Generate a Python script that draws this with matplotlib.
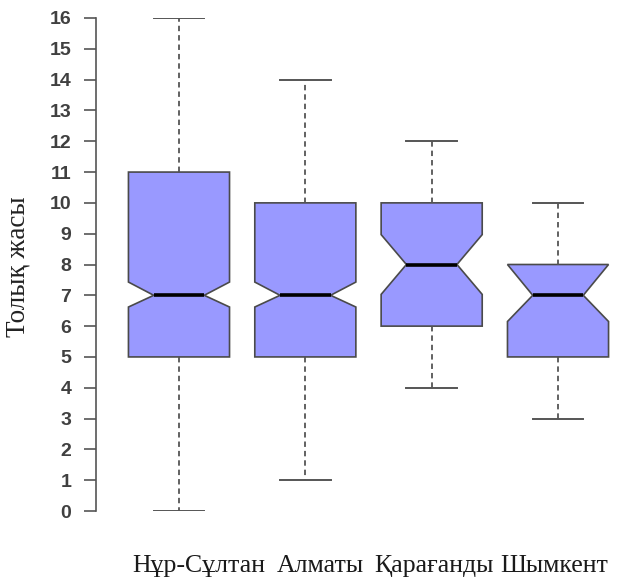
import matplotlib
matplotlib.use("Agg")
import matplotlib.pyplot as plt

# Summary statistics of age per city
cities = ["Нұр-Сұлтан", "Алматы", "Қарағанды", "Шымкент"]
whisker_low = [0, 1, 4, 3]
q1 = [5, 5, 6, 5]
medians = [7, 7, 8, 7]
q3 = [11, 10, 10, 8]
whisker_high = [16, 14, 12, 10]
notch_low = [6.62, 6.62, 7.03, 6.15]
notch_high = [7.43, 7.43, 8.97, 8.0]
y_ticks = list(range(0, 17))
y_label = "Толық жасы"

W, H, DPI = 626, 579, 100
fig = plt.figure(figsize=(W / DPI, H / DPI), dpi=DPI)
fig.patch.set_facecolor("white")

# plot region in pixels (R-style layout)
left_px, right_px = 95.6, 641.4
top_px, bottom_px = 18.0, 511.0
ax = fig.add_axes([left_px / W, 1 - bottom_px / H,
                   (right_px - left_px) / W, (bottom_px - top_px) / H])

stats = []
for i, name in enumerate(cities):
    stats.append(dict(med=medians[i], q1=q1[i], q3=q3[i],
                      whislo=whisker_low[i], whishi=whisker_high[i],
                      cilo=notch_low[i], cihi=notch_high[i],
                      fliers=[], label=name))

positions = list(range(1, len(cities) + 1))
ax.bxp(stats, positions=positions, widths=0.8, shownotches=True,
       patch_artist=True, manage_ticks=False, showfliers=False,
       boxprops=dict(facecolor="#9999ff", edgecolor="#4a4a4a", linewidth=1.2),
       medianprops=dict(color="black", linewidth=2.6, solid_capstyle="butt"),
       whiskerprops=dict(color="#555555", linewidth=1.3, linestyle=(0, (3, 2.2))),
       capprops=dict(color="#555555", linewidth=1.4))

ax.set_xlim(0.34, 4.66)
ax.set_ylim(0, 16)

for side in ("top", "right", "bottom"):
    ax.spines[side].set_visible(False)
ax.spines["left"].set_bounds(0, 16)
ax.spines["left"].set_color("#555555")
ax.spines["left"].set_linewidth(1.2)

ax.set_xticks([])
ax.set_yticks(y_ticks)
ax.set_yticklabels([str(t) for t in y_ticks],
                   fontfamily=["Liberation Sans", "DejaVu Sans"],
                   fontweight="bold", fontsize=14, color="#404040")
ax.tick_params(axis="y", length=8.5, width=1.2, color="#555555", pad=9)

serif = ["Liberation Serif", "DejaVu Serif"]
fig.text(18 / W, 1 - 267 / H, y_label, rotation=90, ha="center", va="center",
         fontfamily=serif, fontsize=19.5, color="#222222")

# city names under the boxes (left edges)
label_x = [0.628, 1.776, 2.544, 3.541]
for x, name in zip(label_x, cities):
    ax.text(x, -1.8, name, ha="left", va="center", fontfamily=serif,
            fontsize=18.5, color="#1a1a1a", clip_on=False)

fig.savefig("out.png", dpi=DPI)
